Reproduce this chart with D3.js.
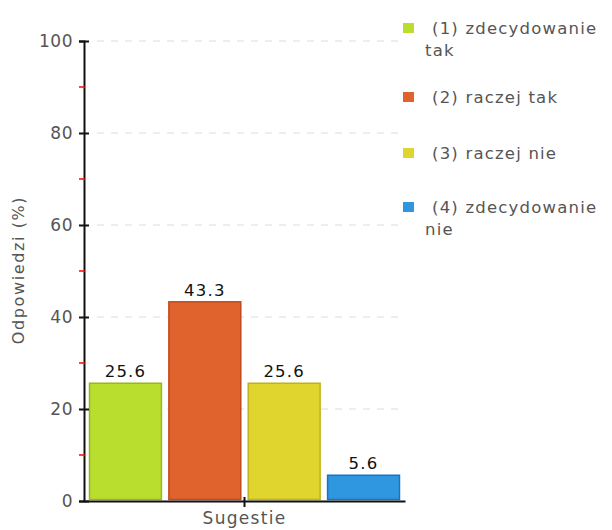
<!DOCTYPE html>
<html>
<head>
<meta charset="utf-8">
<script src="https://cdn.jsdelivr.net/npm/d3@7"></script>
<style>
  body { margin: 0; background: #fff; }
  text { font-family: "DejaVu Sans", sans-serif; }
</style>
</head>
<body>
<svg id="chart" width="612" height="530"></svg>
<script>
var groups = ["Sugestie"]
var series = ["(1) zdecydowanie tak", "(2) raczej tak", "(3) raczej nie", "(4) zdecydowanie nie"]
var legendLines = [["(1) zdecydowanie", "tak"], ["(2) raczej tak"], ["(3) raczej nie"], ["(4) zdecydowanie", "nie"]]
var values = [25.6, 43.3, 25.6, 5.6]
var fills = ["#bade2e", "#e0632e", "#e0d42e", "#2f97e0"]
var strokes = ["#98b81a", "#c04a1c", "#c0b21a", "#1a74c0"]
var majorTicks = [0, 20, 40, 60, 80, 100]
var minorTicks = [10, 30, 50, 70, 90]

var svg = d3.select('#chart')
var plotLeft = 84, plotRight = 405, plotTop = 41, plotBottom = 501

var y = d3.scaleLinear().domain([0, 100]).range([plotBottom, plotTop])
var x0 = d3.scaleBand().domain(groups).range([plotLeft, plotRight])
var x1 = d3.scaleBand().domain(series).range([x0(groups[0]), x0(groups[0]) + x0.bandwidth()])
    .paddingInner(0.075).paddingOuter(0.06)

// grid
svg.append('g').selectAll('line')
    .data(majorTicks.filter(function(d) { return d > 0 }))
    .join('line')
    .attr('x1', 97).attr('x2', plotRight)
    .attr('y1', function(d) { return y(d) }).attr('y2', function(d) { return y(d) })
    .attr('stroke', '#dddddd').attr('stroke-width', 1.2)
    .attr('stroke-dasharray', '7,7')

// bars
svg.append('g').selectAll('rect')
    .data(values)
    .join('rect')
    .attr('x', function(d, i) { return x1(series[i]) + 0.75 })
    .attr('width', x1.bandwidth() - 1.5)
    .attr('y', function(d) { return y(d) })
    .attr('height', function(d) { return y(0) - y(d) - 1.5 })
    .attr('fill', function(d, i) { return fills[i] })
    .attr('stroke', function(d, i) { return strokes[i] })
    .attr('stroke-width', 1.5)

// value labels
svg.append('g').selectAll('text')
    .data(values)
    .join('text')
    .attr('x', function(d, i) { return x1(series[i]) + x1.bandwidth() / 2 })
    .attr('y', function(d) { return y(d) - 6 })
    .attr('text-anchor', 'middle')
    .attr('font-size', 16.5)
    .attr('letter-spacing', 1.2)
    .attr('fill', '#111')
    .text(function(d) { return d.toFixed(1) })

// y axis
var yAxis = svg.append('g').attr('transform', 'translate(' + plotLeft + ',0)')
    .call(d3.axisLeft(y).tickValues(majorTicks).tickSize(5))
yAxis.select('.domain').attr('stroke', '#111').attr('stroke-width', 2)
yAxis.selectAll('.tick line').attr('x2', 5).attr('x1', -5).attr('stroke', '#111').attr('stroke-width', 2)
yAxis.selectAll('.tick text').attr('x', -11).attr('font-size', 17).attr('letter-spacing', 0.5)
    .attr('fill', '#555').attr('font-family', '"DejaVu Sans", sans-serif')
svg.append('g').selectAll('line')
    .data(minorTicks)
    .join('line')
    .attr('x1', plotLeft - 5).attr('x2', plotLeft + 1)
    .attr('y1', function(d) { return y(d) }).attr('y2', function(d) { return y(d) })
    .attr('stroke', '#ff0000').attr('stroke-width', 1.5)

// x axis
var xAxis = svg.append('g').attr('transform', 'translate(0,' + plotBottom + ')')
    .call(d3.axisBottom(x0).tickSize(6).tickSizeOuter(0))
xAxis.select('.domain').attr('stroke', '#111').attr('stroke-width', 2)
xAxis.selectAll('.tick line').attr('y1', -4).attr('y2', 6).attr('stroke', '#111').attr('stroke-width', 2)
xAxis.selectAll('.tick text').attr('y', 11).attr('font-size', 17).attr('letter-spacing', 1.3)
    .attr('fill', '#555').attr('font-family', '"DejaVu Sans", sans-serif')

// y title
svg.append('text')
    .attr('transform', 'translate(24,270) rotate(-90)')
    .attr('text-anchor', 'middle')
    .attr('font-size', 16)
    .attr('letter-spacing', 1.6)
    .attr('fill', '#555')
    .text('Odpowiedzi (%)')

// legend
var legendY = [28, 97, 153, 207]
var lg = svg.append('g').selectAll('g')
    .data(series)
    .join('g')
    .attr('transform', function(d, i) { return 'translate(403,' + legendY[i] + ')' })
lg.append('rect')
    .attr('x', 0).attr('y', -5).attr('width', 11).attr('height', 10)
    .attr('fill', function(d, i) { return fills[i] })
lg.each(function(d, i) {
    var t = d3.select(this).append('text')
        .attr('font-size', 16.5).attr('letter-spacing', 1.2).attr('fill', '#555')
    legendLines[i].forEach(function(line, j) {
        t.append('tspan')
            .attr('x', j === 0 ? 29 : 22)
            .attr('y', 6 + j * 22)
            .text(line)
    })
})
</script>
</body>
</html>
